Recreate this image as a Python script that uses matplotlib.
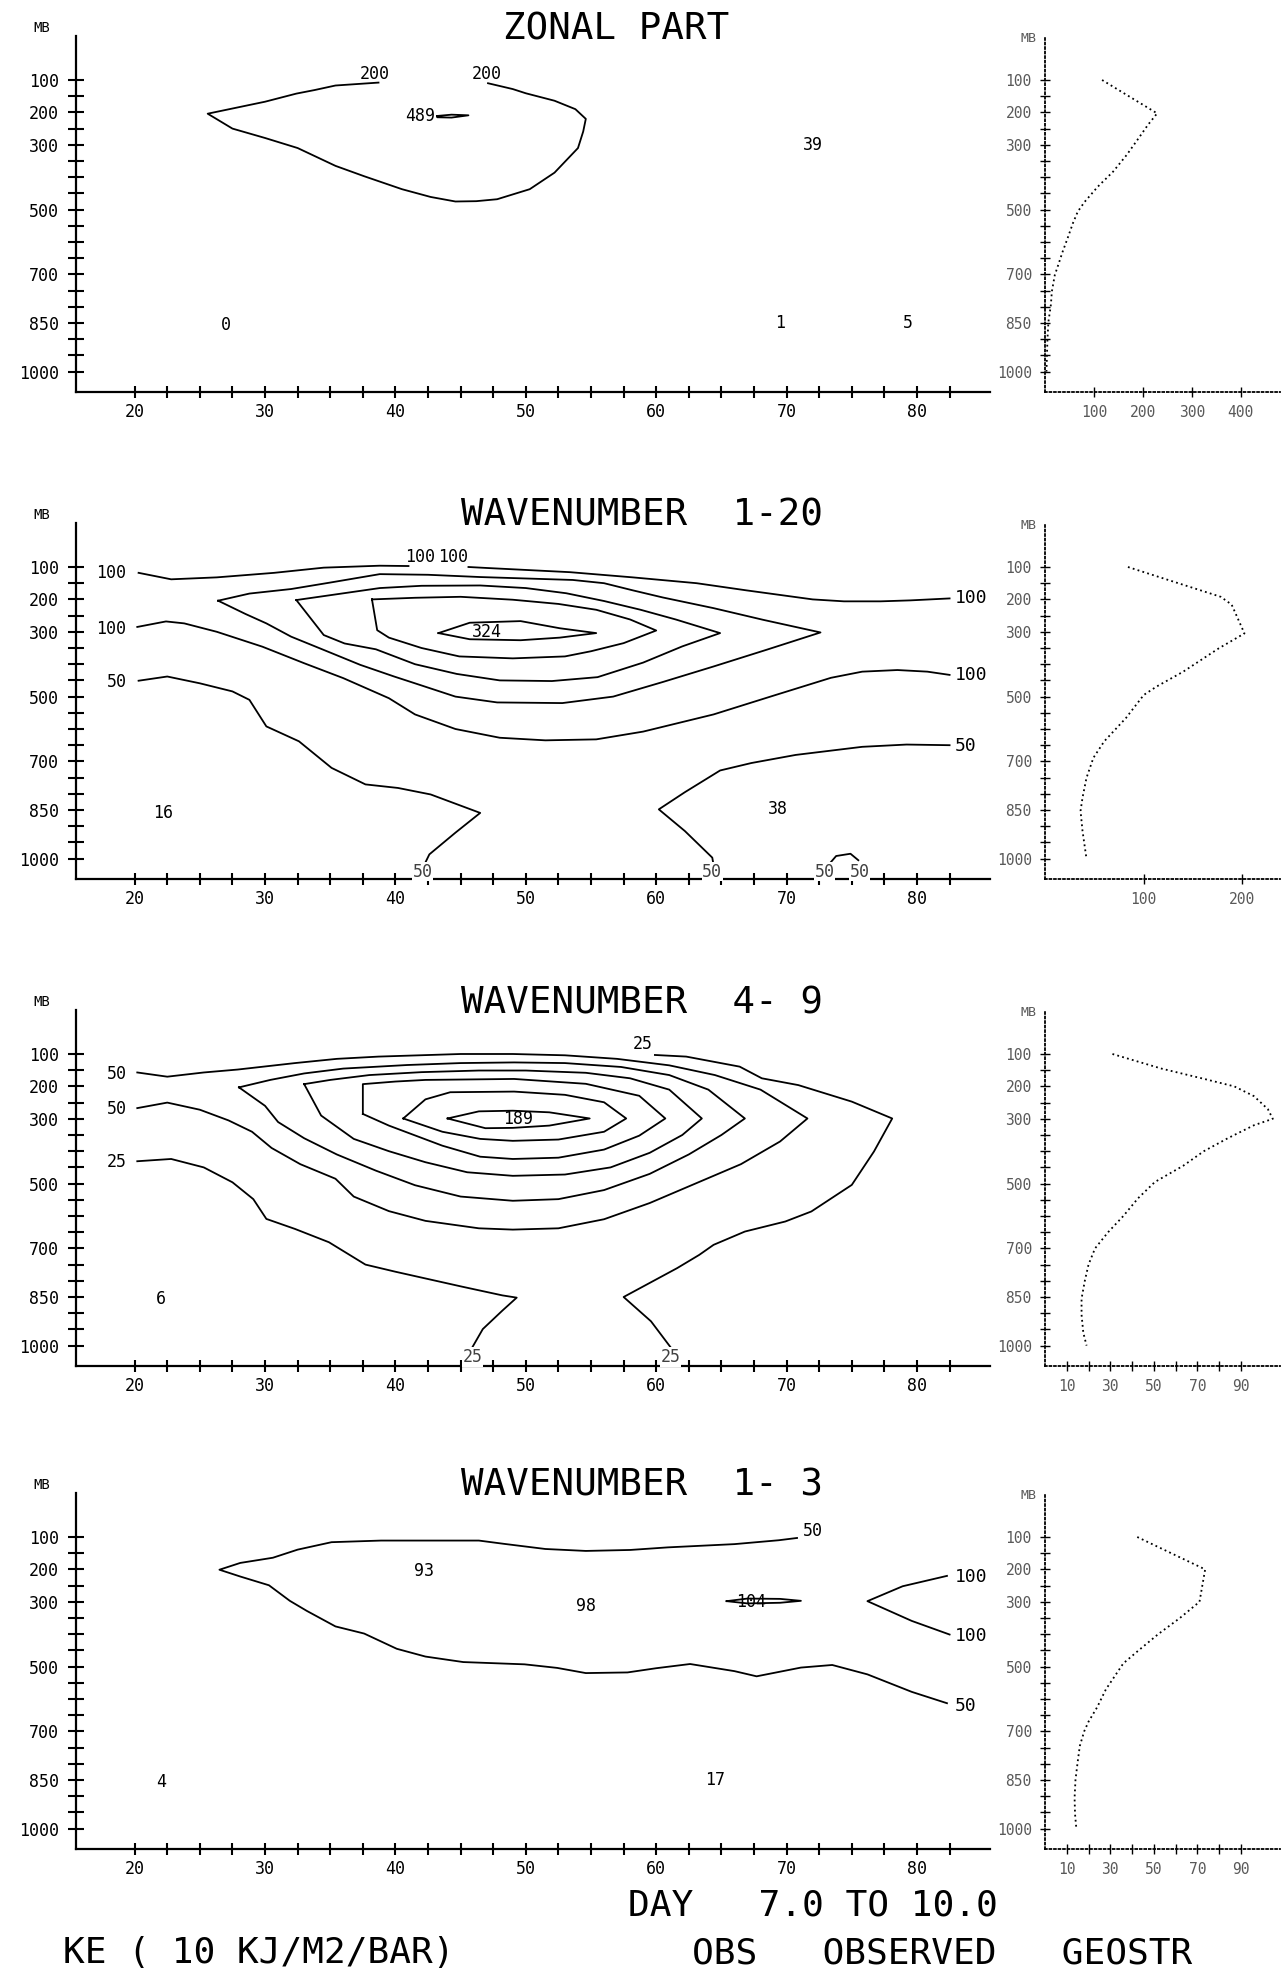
import numpy as np
import matplotlib
matplotlib.use("Agg")
import matplotlib.pyplot as plt

plt.rcParams['font.family'] = ['DejaVu Sans Mono', 'DejaVu Sans']

W, H = 1287, 1980

# ---- axes ticks -------------------------------------------------------
p_ticks = np.arange(100, 1001, 50)
p_labels = [100, 200, 300, 500, 700, 850, 1000]
x_ticks = np.arange(20, 83, 2.5)
x_labels = [20, 30, 40, 50, 60, 70, 80]

titles = ["ZONAL PART", "WAVENUMBER  1-20", "WAVENUMBER  4- 9", "WAVENUMBER  1- 3"]

# ---- panel 1 : zonal part ---------------------------------------------
zonal_200 = [(38.7,108),(35.4,117),(33.8,131),(32.4,142),(30.0,167),(27.5,188),(25.6,204),
             (27.5,250),(30.0,279),(32.5,310),(35.4,365),(37.6,397),(40.5,437),(42.7,461),
             (44.6,475),(46.2,474),(47.8,468),(50.3,437),(52.2,386),(54.0,310),(54.4,259),
             (54.6,220),(53.8,190),(52.2,164),(50.0,141),(49.0,128),(47.1,110)]
zonal_max = [(43.2,211),(44.3,207),(45.6,209),(44.3,216),(43.2,215),(43.2,211)]
zonal_text = [("200",38.4,83),("200",47.0,83),("489",41.9,210),("0",27.0,857),
              ("39",72.0,302),("1",69.5,851),("5",79.3,851)]

# ---- panel 2 : wavenumber 1-20 ----------------------------------------
w20_100_top_a = [(20.3,118),(22.8,138),(26.3,132),(30.7,118),(34.5,102),(38.8,96),(41.0,97)]
w20_100_top_b = [(45.6,100),(47.0,103),(53.4,116),(58.2,132),(63.1,150),(66.9,172),(72.0,200),
                 (74.4,206),(77.2,206),(79.5,203),(82.5,197)]
w20_100_low = [(20.2,285),(22.4,268),(23.8,274),(26.3,300),(29.8,346),(33.0,397),(36.0,443),
               (39.5,505),(41.5,555),(44.6,600),(48.0,627),(51.5,635),(55.4,632),(59.0,608),
               (64.4,555),(69.0,497),(73.4,442),(75.8,423),(78.5,418),(80.8,423),(82.5,433)]
w20_150 = [(26.4,204),(28.8,182),(32.0,168),(35.0,148),(38.8,122),(42.5,124),(46.5,131),
           (53.6,140),(56.0,150),(58.2,172),(60.5,194),(64.4,227),(68.2,263),(72.6,302),
           (68.5,355),(64.4,407),(60.5,455),(56.7,500),(52.8,520),(47.8,518),(44.6,500),
           (41.5,459),(39.9,438),(37.3,402),(34.2,351),(32.0,315),(30.1,274),(28.5,245),(26.4,204)]
w20_200 = [(32.4,202),(35.0,187),(38.8,165),(42.0,158),(46.5,157),(50.0,165),(53.1,181),
           (56.0,205),(58.8,232),(61.5,262),(64.9,304),(62.0,345),(59.0,395),(55.5,440),
           (52.0,452),(48.0,450),(44.7,430),(41.5,400),(38.5,354),(36.1,336),(34.5,310),(32.4,202)]
w20_250 = [(38.2,200),(41.5,195),(45.0,192),(49.0,201),(52.5,214),(55.4,232),(58.0,262),
           (60.0,296),(57.5,335),(55.0,360),(53.0,376),(49.0,382),(44.9,376),(42.0,350),
           (39.5,318),(38.6,295),(38.2,200)]
w20_300 = [(43.3,304),(45.7,272),(49.6,267),(52.6,289),(55.4,304),(52.6,318),(49.6,326),
           (45.7,323),(43.3,304)]
w20_50_left = [(20.3,451),(22.5,438),(25.0,459),(27.5,484),(28.8,510),(30.1,592),(32.6,638),
               (35.1,720),(37.7,771),(40.2,782),(42.7,802),(46.5,859),(44.6,920),(42.6,987),
               (42.2,1020)]
w20_50_right = [(64.4,1020),(64.3,997),(62.2,915),(60.2,848),(62.2,795),(64.9,728),(67.3,705),
                (70.7,680),(75.8,655),(79.2,648),(82.5,650)]
w20_50_bump = [(73.2,1020),(73.8,992),(74.9,985),(75.5,1005)]
w20_text = [("100",18.2,118),("100",18.2,290),("50",18.6,455),("100",41.9,70),("100",44.4,70),
            ("324",47.0,302),("16",22.2,858),("38",69.3,848)]
w20_text_right = [("100",82.9,197),("100",82.9,433),("50",82.9,652)]
w20_text_bottom = [("50",42.1,1040),("50",64.3,1040),("50",72.9,1040),("50",75.6,1040)]

# ---- panel 3 : wavenumber 4-9 -----------------------------------------
w49_25_left = [(20.2,431),(22.8,424),(25.3,450),(27.5,496),(29.1,548),(30.1,609),(32.3,640),
               (34.9,681),(37.7,750),(40.0,772),(45.1,818),(48.2,845),(49.3,852),(48.2,892),
               (46.7,949),(45.9,1005)]
w49_25_right = [(61.1,1005),(59.6,925),(57.5,850),(61.6,761),(63.3,720),(64.4,689),(66.8,648),
                (69.9,617),(71.9,586),(75.0,504),(76.7,401),(78.1,299),(75.0,247),(70.9,196),
                (68.1,175),(66.4,139),(62.3,108),(59.9,103)]
w49_50 = [(20.2,157),(22.5,170),(25.3,157),(27.9,148),(32.3,128),(35.5,115),(38.7,108),
          (45.0,100),(49.0,100),(53.0,104),(57.0,115),(61.0,135),(64.5,165),(68.0,210),
          (71.6,299),(69.5,370),(66.5,440),(63.0,500),(59.5,560),(56.0,610),(52.5,638),
          (49.0,642),(46.4,638),(42.3,615),(39.5,585),(36.8,540),(35.4,485),(32.7,440),
          (30.5,390),(29.0,340),(27.2,305),(25.0,272),(22.5,250),(20.2,267)]
w49_75 = [(28.0,203),(30.4,180),(33.0,160),(36.0,145),(40.9,134),(45.0,128),(49.1,126),
          (53.0,128),(57.3,140),(61.0,165),(64.0,210),(66.8,299),(65.0,350),(62.5,410),
          (59.5,470),(56.0,520),(52.5,548),(49.0,553),(45.0,540),(41.5,505),(38.5,460),
          (35.5,410),(33.0,360),(31.0,310),(30.0,260),(28.0,203)]
w49_100 = [(33.0,193),(35.0,180),(38.0,165),(42.0,156),(46.4,151),(50.0,151),(54.6,158),
           (58.0,175),(61.0,210),(63.5,299),(62.0,350),(59.5,405),(56.5,450),(53.0,472),
           (49.0,476),(45.5,465),(42.3,434),(39.5,400),(36.8,362),(34.3,290),(33.0,193)]
w49_125 = [(37.5,285),(37.5,193),(40.0,185),(42.3,180),(49.1,177),(54.6,192),(58.7,229),
           (60.7,299),(58.7,352),(56.0,395),(52.5,420),(49.0,424),(46.5,417),(43.6,383),
           (39.5,321),(37.5,285)]
w49_150 = [(40.6,299),(42.3,240),(44.2,218),(49.1,216),(53.0,226),(56.0,249),(57.7,299),
           (56.0,340),(52.5,364),(49.0,368),(46.5,362),(43.6,340),(40.6,299)]
w49_175 = [(44.0,299),(46.4,277),(49.0,275),(51.8,280),(54.9,299),(51.8,321),(49.0,328),
           (46.9,329),(44.0,299)]
w49_text = [("50",18.6,162),("50",18.6,270),("25",18.6,432),("25",59.0,70),("189",49.4,301),
            ("6",22.0,856)]
w49_text_bottom = [("25",45.9,1035),("25",61.1,1035)]

# ---- panel 4 : wavenumber 1-3 -----------------------------------------
w13_50 = [(70.8,103),(69.4,110),(66.0,122),(60.9,132),(58.0,140),(54.6,143),(51.5,137),
          (48.3,121),(46.4,111),(38.9,111),(35.1,116),(32.5,139),(30.6,164),(28.1,180),
          (26.5,201),(28.1,222),(30.3,249),(31.9,297),(33.2,328),(35.4,376),(37.6,398),
          (40.1,445),(42.3,469),(45.2,486),(49.9,493),(52.4,504),(54.6,520),(57.8,518),
          (60.0,505),(62.6,492),(66.0,514),(67.7,530),(71.1,503),(73.5,495),(76.2,524),
          (79.6,578),(82.3,613)]
w13_100 = [(82.3,220),(78.9,252),(76.2,298),(79.6,359),(82.5,401)]
w13_max = [(65.4,298),(67.0,290),(69.5,291),(71.1,297),(69.5,303),(67.0,305),(65.4,298)]
w13_text = [("50",72.0,80),("93",42.2,206),("98",54.6,313),("104",67.3,300),("4",22.0,855),
            ("17",64.5,850)]
w13_text_right = [("100",82.9,222),("100",82.9,405),("50",82.9,622)]

# ---- side profiles ----------------------------------------------------
prof1_p = [100,203,239,280,331,383,429,476,506,542,589,630,671,702,753,794,846,900,1000]
prof1_v = [116.6,229,210,191,167,139,108,81,67,57,46,36,27,20,14,12,7,5,3]
prof2_p = [100,151,192,216,305,351,423,469,495,566,638,689,751,812,853,915,1000]
prof2_v = [84,136,178,189,202,176,140,113,100,82,60,49,42,38,36,38,42]
prof3_p = [100,120,145,175,200,230,270,300,320,360,400,445,495,545,600,650,700,750,800,855,905,960,1000]
prof3_v = [31,41,53.5,72,87,96,102.4,104.7,96,84,73,63.5,50.5,42.8,36,29,23,20,18.3,16.8,16.8,17.6,19.1]
prof4_p = [100,200,300,350,400,450,490,530,570,625,670,700,745,795,850,905,955,1000]
prof4_v = [42.4,73.6,71,62,52,43,36,32,28,24,20,18,16,15,14,13.6,13.8,14.4]

side_xmax = [480, 238, 108, 108]
side_ticks = [[100,200,300,400], [100,200], list(range(10,100,10)), list(range(10,100,10))]
side_ticklabels = [["100","200","300","400"], ["100","200"],
                   ["10","","30","","50","","70","","90"], ["10","","30","","50","","70","","90"]]

panels = [
    dict(lines=[zonal_200, zonal_max], text=zonal_text, right=[], bottom=[],
         prof=(prof1_p, prof1_v)),
    dict(lines=[w20_100_top_a, w20_100_top_b, w20_100_low, w20_150, w20_200, w20_250, w20_300,
                w20_50_left, w20_50_right, w20_50_bump],
         text=w20_text, right=w20_text_right, bottom=w20_text_bottom, prof=(prof2_p, prof2_v)),
    dict(lines=[w49_25_left, w49_25_right, w49_50, w49_75, w49_100, w49_125, w49_150, w49_175],
         text=w49_text, right=[], bottom=w49_text_bottom, prof=(prof3_p, prof3_v)),
    dict(lines=[w13_50, w13_100, w13_max], text=w13_text, right=w13_text_right, bottom=[],
         prof=(prof4_p, prof4_v)),
]

# ---- layout (pixels) --------------------------------------------------
p100_px = [80, 567, 1054, 1537]
mb_px = 0.324
ytop, ybot = -35, 1062


def box(left, top, width, height):
    return [left / W, 1 - (top + height) / H, width / W, height / H]


fig = plt.figure(figsize=(W / 100, H / 100), dpi=100)

for i, pan in enumerate(panels):
    top = p100_px[i] - (100 - ytop) * mb_px
    hgt = (ybot - ytop) * mb_px

    ax = fig.add_axes(box(76, top, 914, hgt))
    ax.set_xlim(15.5, 85.6)
    ax.set_ylim(ybot, ytop)
    ax.spines[['top', 'right']].set_visible(False)
    ax.spines[['left', 'bottom']].set_linewidth(1.6)
    ax.set_yticks(p_ticks)
    ax.set_yticklabels([str(p) if p in p_labels else "" for p in p_ticks])
    ax.set_xticks(x_ticks)
    ax.set_xticklabels([str(int(x)) if x in x_labels else "" for x in x_ticks])
    ax.tick_params(axis='y', direction='inout', length=11, width=1.5, labelsize=12, pad=7)
    ax.tick_params(axis='x', direction='inout', length=8, width=1.5, labelsize=12, pad=4)

    for ln in pan['lines']:
        xs = [q[0] for q in ln]
        ps = [q[1] for q in ln]
        ax.plot(xs, ps, color='black', lw=1.3, clip_on=False)
    for t, x, p in pan['text']:
        ax.text(x, p, t, ha='center', va='center', fontsize=12)
    for t, x, p in pan['right']:
        ax.text(x, p, t, ha='left', va='center', fontsize=13)
    for t, x, p in pan['bottom']:
        ax.text(x, p, t, ha='center', va='center', fontsize=12, color='0.25',
                bbox=dict(facecolor='white', edgecolor='none', pad=0.5))

    ax.text(-0.037, 1.024, "MB", transform=ax.transAxes, ha='center', va='center', fontsize=10)
    fig.text(503 / W if i == 0 else 461 / W, 1 - (p100_px[i] - 51) / H, titles[i],
             ha='left', va='center', fontsize=27)

    # side profile
    sx = fig.add_axes(box(1045, top, 235, hgt))
    sx.set_xlim(0, side_xmax[i])
    sx.set_ylim(ybot, ytop)
    sx.spines[['top', 'right']].set_visible(False)
    for s in ['left', 'bottom']:
        sx.spines[s].set_linestyle((0, (1, 1.5)))
        sx.spines[s].set_linewidth(1.3)
    sx.set_yticks(p_ticks)
    sx.set_yticklabels([str(p) if p in p_labels else "" for p in p_ticks])
    sx.set_xticks(side_ticks[i])
    sx.set_xticklabels(side_ticklabels[i])
    sx.tick_params(direction='inout', length=7, width=1.0, labelsize=10.5,
                   labelcolor='0.35', pad=6)
    pp, vv = pan['prof']
    sx.plot(vv, pp, color='black', lw=1.3, linestyle=(0, (1, 1.8)), clip_on=False)
    sx.text(-0.07, 0.995, "MB", transform=sx.transAxes, ha='center', va='center',
            fontsize=9.5, color='0.35')

fig.text(628 / W, 1 - 1905 / H, "DAY   7.0 TO 10.0", ha='left', va='center', fontsize=26)
fig.text(63 / W, 1 - 1953 / H, "KE ( 10 KJ/M2/BAR)", ha='left', va='center', fontsize=26)
fig.text(692 / W, 1 - 1953 / H, "OBS   OBSERVED   GEOSTR", ha='left', va='center', fontsize=26)

fig.savefig("out.png", dpi=100, facecolor='white')
